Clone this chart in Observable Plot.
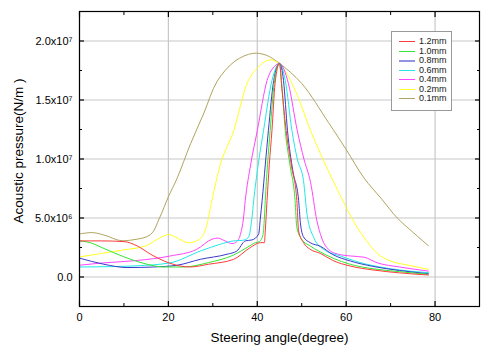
<!DOCTYPE html>
<html><head><meta charset="utf-8">
<script src="https://cdn.jsdelivr.net/npm/d3@7"></script>
<script src="https://cdn.jsdelivr.net/npm/@observablehq/plot@0.6"></script>
<style>
body{margin:0;background:#fff;font-family:"Liberation Sans",Arial,sans-serif}
#wrap{position:relative;width:482px;height:349px;overflow:hidden}
#legend{position:absolute;left:391px;top:31px;width:61px;height:80px;border:1px solid #999;background:#fff;box-sizing:border-box}
.row{position:absolute;left:0;width:100%;height:9px;font-size:9px;line-height:9px;color:#222}
.sw{position:absolute;left:7px;top:4px;width:16px;height:1px}
.lb{position:absolute;left:27px;top:0;white-space:nowrap}
</style>
</head><body>
<div id="wrap"></div>
<script>
// series names and colours
const seriesNames = ["1.2mm","1.0mm","0.8mm","0.6mm","0.4mm","0.2mm","0.1mm"];
const seriesColors = ["#ff3a3a","#33e833","#3a3acc","#22e8e8","#ff44ff","#ffff22","#b0a460"];
// values: [steering angle (deg), acoustic pressure (x1e6)]
const s12 = [[0,3.06],[5,3.06],[10,3.0],[13,2.63],[16,1.93],[19,1.36],[22.7,0.93],[24.9,0.85],[29,1.08],[34.7,1.5],[38.4,2.49],[40.7,2.91],[41.6,2.91],[41.8,3.9],[42.2,6.5],[42.7,9.5],[43.3,12.4],[44,16.4],[45,18.1],[45.5,16.1],[46.5,12.4],[47.7,9.4],[48.9,6.5],[49.3,3.9],[50.4,2.91],[51.9,2.35],[54.2,2.0],[57,1.4],[60.9,0.93],[66,0.6],[72,0.35],[78.5,0.17]];
const s10 = [[0,3.06],[2.5,2.9],[5,2.5],[7.7,2.06],[11.5,1.5],[15.2,1.08],[19,0.85],[23.4,0.85],[29,1.22],[34.7,1.87],[37.7,2.5],[39.6,2.91],[40.5,3.0],[41.3,3.6],[41.6,5.0],[41.8,6.5],[42.3,9.5],[42.9,12.4],[43.8,16.4],[45,18.1],[45.5,16.4],[46.3,12.4],[47.4,9.4],[48.5,6.5],[48.9,4.2],[50,3.2],[51.9,2.63],[53.8,2.2],[57,1.6],[60.9,1.08],[66,0.7],[72,0.45],[78.5,0.23]];
const s08 = [[0,1.6],[5.5,1.08],[10.7,0.8],[16.7,0.85],[22,1.0],[27.2,1.5],[33.2,1.93],[35.4,2.2],[37.3,3.06],[38.8,3.14],[40.3,3.63],[40.7,5.0],[41.1,6.5],[41.8,9.5],[42.5,12.4],[43.7,16.65],[45,18.1],[45.9,16.65],[46.8,12.4],[48,9],[49.3,6.5],[49.7,4.6],[50.4,3.4],[51.9,2.91],[54.2,2.6],[57,1.9],[60.9,1.36],[66,0.9],[72,0.55],[78.5,0.28]];
const s06 = [[0,0.85],[7,0.88],[13,0.95],[20.4,1.2],[27.2,2.2],[31.7,2.78],[34.7,3.06],[36.6,3.1],[38,3.35],[38.8,5.0],[39.2,6.5],[40.2,9.5],[41.4,12.4],[43.3,16.65],[45,18.1],[46.3,16.65],[47.8,12.4],[49,10],[50.4,8.16],[51.2,5.3],[52.7,3.35],[54.9,2.35],[58.7,1.78],[64.6,1.08],[70,0.7],[78.5,0.37]];
const s04 = [[0,1.0],[5.5,1.2],[13,1.4],[20.4,1.78],[26.4,2.35],[29.8,3.2],[31,3.3],[32.8,3.05],[34.3,2.83],[35.4,3.0],[36.2,3.6],[36.9,5.0],[37.3,6.5],[38.5,9.5],[40,12.4],[42.2,16.65],[44,17.9],[45,18.1],[46,17.6],[47,16.4],[49,12.4],[50.5,10.0],[52,8.0],[53.4,4.8],[54.5,3.3],[56,2.35],[58,1.95],[61,1.78],[64,1.68],[67,1.2],[72,0.85],[78.5,0.5]];
const s02 = [[0,1.7],[5,2.0],[10,2.3],[15,2.65],[18,3.3],[20,3.6],[22,3.3],[24.5,2.9],[27,3.2],[28.5,4.2],[29.8,6.5],[31.5,9.3],[34.7,12.4],[37.7,16.4],[40,17.7],[43,18.4],[46,17.6],[49,15.4],[52,12.4],[55,9.8],[57,8.2],[60,5.9],[62,4.5],[64.5,3.1],[67,2.0],[70,1.35],[74,1.0],[78.5,0.65]];
const s01 = [[0,3.65],[3,3.76],[6,3.5],[9,3.1],[12,3.15],[16,3.6],[18,5],[20,6.8],[22,8.4],[25,11.3],[28,13.9],[31,16.6],[35,18.3],[39,18.95],[42,18.8],[45,18.1],[50,16.4],[56,13.1],[60,10.8],[64,8.4],[68,6.6],[71.5,5.0],[75,3.8],[78.5,2.65]];
const seriesData = [s12,s10,s08,s06,s04,s02,s01];
const seriesCurves = ["monotone-x","monotone-x","monotone-x","monotone-x","monotone-x","monotone-x","catmull-rom"];
// axis ticks
const xMajor = [0,20,40,60,80];
const xMinor = [10,30,50,70,90];
const yMajor = [0,5,10,15,20];
const yMinor = [-2.5,2.5,7.5,12.5,17.5,22.5];
const yLabels = ["0.0","5.0x10\u2076","1.0x10\u2077","1.5x10\u2077","2.0x10\u2077"];

const rows = seriesData.flatMap((pts,i)=>pts.map(([a,p])=>({angle:a,pressure:p,series:seriesNames[i]})));
const drawOrder = seriesNames.map((n,i)=>i).reverse();

const chart = Plot.plot({
  width:482, height:349,
  marginLeft:79, marginRight:3, marginTop:11, marginBottom:43,
  style:{fontFamily:"Liberation Sans, Arial, sans-serif", fontSize:"11px", color:"#000", background:"#fff"},
  x:{domain:[0,90]},
  y:{domain:[-2.5,22.5]},
  color:{domain:seriesNames, range:seriesColors},
  marks:[
    Plot.gridX(xMajor,{stroke:"#c8c8c8", strokeOpacity:1, strokeWidth:1.2}),
    Plot.gridY(yMajor,{stroke:"#c8c8c8", strokeOpacity:1, strokeWidth:1.2}),
    ...drawOrder.map(i=>Plot.line(rows.filter(d=>d.series===seriesNames[i]),{x:"angle", y:"pressure", stroke:"series", strokeWidth:1, curve:seriesCurves[i]})),
    Plot.frame({stroke:"#000", strokeWidth:1.2}),
    Plot.axisX(xMajor,{anchor:"bottom", tickSize:-5, text:null, label:null, strokeWidth:1.2}),
    Plot.axisX(xMinor,{anchor:"bottom", tickSize:-3, text:null, label:null}),
    Plot.axisX(xMajor,{anchor:"top", tickSize:-5, text:null, label:null, strokeWidth:1.2}),
    Plot.axisX(xMinor,{anchor:"top", tickSize:-3, text:null, label:null}),
    Plot.axisY(yMajor,{anchor:"left", tickSize:-5, text:null, label:null, strokeWidth:1.2}),
    Plot.axisY(yMinor,{anchor:"left", tickSize:-3, text:null, label:null}),
    Plot.axisY(yMajor,{anchor:"right", tickSize:-5, text:null, label:null, strokeWidth:1.2}),
    Plot.axisY(yMinor,{anchor:"right", tickSize:-3, text:null, label:null}),
    Plot.axisX(xMajor,{anchor:"bottom", tickSize:0, tickPadding:7, label:null, fontSize:11}),
    Plot.axisY(yMajor,{anchor:"left", tickSize:0, tickPadding:7, label:null, fontSize:11, tickFormat:d=>yLabels[yMajor.indexOf(d)]}),
    Plot.text(["Steering angle(degree)"],{frameAnchor:"bottom", dy:35, fontSize:13.5, text:d=>d}),
    Plot.text(["Acoustic pressure(N/m )"],{frameAnchor:"left", textAnchor:"middle", dx:-61, dy:-8, rotate:-90, fontSize:13.5, text:d=>d})
  ]
});
const wrap = document.getElementById("wrap");
wrap.appendChild(chart);

const leg = document.createElement("div");
leg.id = "legend";
seriesNames.forEach((name,i)=>{
  const r = document.createElement("div");
  r.className = "row";
  r.style.top = Math.round(5 + i*9.5) + "px";
  const sw = document.createElement("div");
  sw.className = "sw";
  sw.style.background = seriesColors[i];
  if (i===2) { sw.style.height = "2px"; sw.style.top = "4px"; sw.style.opacity = 0.55; }
  const lb = document.createElement("span");
  lb.className = "lb";
  lb.textContent = name;
  r.appendChild(sw); r.appendChild(lb);
  leg.appendChild(r);
});
wrap.appendChild(leg);
</script>
</body></html>
